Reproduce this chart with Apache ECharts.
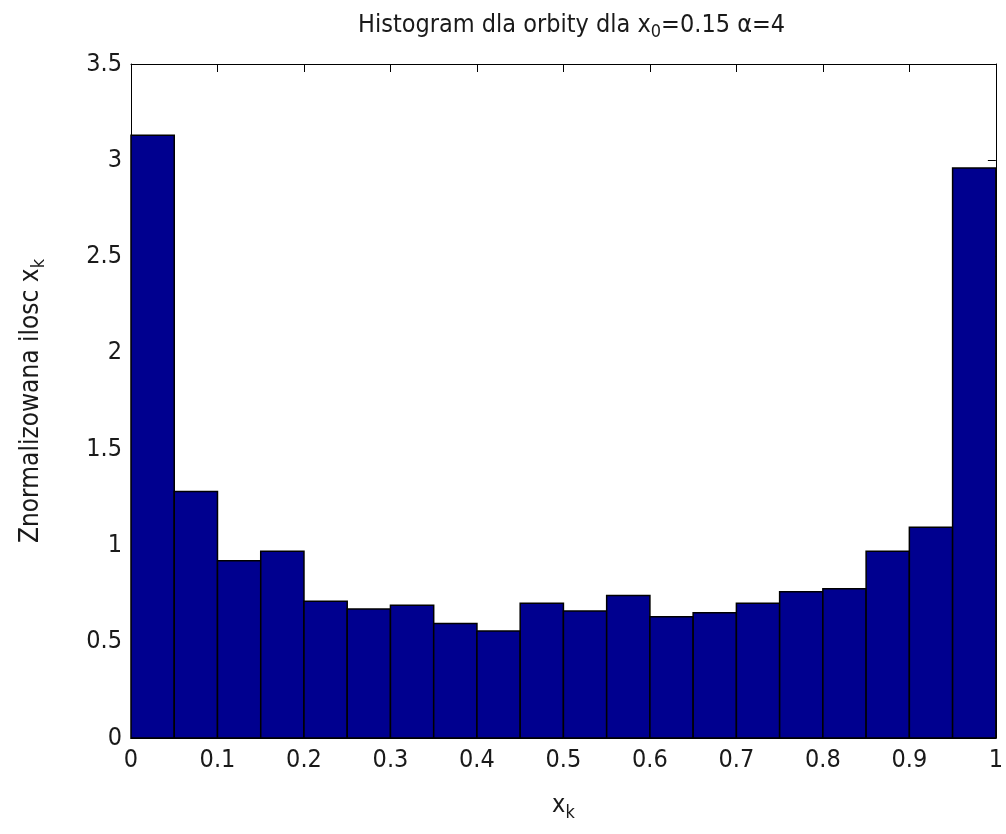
<!DOCTYPE html>
<html>
<head>
<meta charset="utf-8">
<script src="https://cdn.jsdelivr.net/npm/echarts@6/dist/echarts.min.js"></script>
<style>
  html, body { margin: 0; padding: 0; background: #fff; overflow: hidden; }
  #chart { width: 100vw; height: 100vh; }
</style>
</head>
<body>
<div id="chart"></div>
<script>
// Histogram bin edges (x_k) and normalized counts
const binEdges = [0, 0.05, 0.1, 0.15, 0.2, 0.25, 0.3, 0.35, 0.4, 0.45, 0.5,
                  0.55, 0.6, 0.65, 0.7, 0.75, 0.8, 0.85, 0.9, 0.95, 1];
const density = [3.13, 1.28, 0.92, 0.97, 0.71, 0.67, 0.69, 0.595, 0.555, 0.70,
                 0.66, 0.74, 0.63, 0.65, 0.70, 0.76, 0.775, 0.97, 1.095, 2.96];
const xTicks = [0, 0.1, 0.2, 0.3, 0.4, 0.5, 0.6, 0.7, 0.8, 0.9, 1];
const yTicks = [0, 0.5, 1, 1.5, 2, 2.5, 3, 3.5];
const titleText = 'Histogram dla orbity dla x{sub|0}=0.15 α=4';
const xName = 'x{sub|k}';
const yName = 'Znormalizowana ilosc x{sub|k}';

const FONT = '"Liberation Sans Narrow", "DejaVu Sans Condensed", "Liberation Sans", sans-serif';
const TXT = '#1a1a1a';

const bars = density.map((v, i) => [binEdges[i], binEdges[i + 1], v]);

const chart = echarts.init(document.getElementById('chart'), null, { renderer: 'canvas' });

const axisCommon = {
  type: 'value',
  axisLine: { show: true, onZero: false, lineStyle: { color: '#000', width: 1 } },
  axisTick: { show: true, inside: true, length: 8, lineStyle: { color: '#000', width: 1 } },
  splitLine: { show: false }
};

chart.setOption({
  backgroundColor: '#fff',
  animation: false,
  title: {
    text: titleText,
    left: 353,
    top: 4,
    textStyle: {
      fontFamily: FONT, fontSize: 25, fontWeight: 'normal', color: TXT,
      rich: { sub: { fontFamily: FONT, fontSize: 18, color: TXT, padding: [14, 0, 0, 0] } }
    }
  },
  grid: { left: 131, right: 4, top: 64, bottom: 96, containLabel: false },
  xAxis: [
    Object.assign({}, axisCommon, {
      position: 'bottom', min: 0, max: 1, interval: 0.1,
      axisLabel: {
        show: true, margin: 10, fontFamily: FONT, fontSize: 25, color: TXT,
        formatter: v => { const t = xTicks.find(x => Math.abs(x - v) < 1e-9); return t === undefined ? '' : String(t); }
      },
      name: xName, nameLocation: 'middle', nameGap: 50,
      nameTextStyle: {
        fontFamily: FONT, fontSize: 25, color: TXT,
        rich: { sub: { fontFamily: FONT, fontSize: 18, color: TXT, padding: [16, 0, 0, 0] } }
      }
    }),
    Object.assign({}, axisCommon, {
      position: 'top', min: 0, max: 1, interval: 0.1,
      axisLabel: { show: false }
    })
  ],
  yAxis: [
    Object.assign({}, axisCommon, {
      position: 'left', min: 0, max: 3.5, interval: 0.5,
      axisLabel: {
        show: true, margin: 9, fontFamily: FONT, fontSize: 25, color: TXT,
        formatter: v => { const t = yTicks.find(y => Math.abs(y - v) < 1e-9); return t === undefined ? '' : String(t); }
      },
      name: yName, nameLocation: 'middle', nameGap: 83,
      nameTextStyle: {
        fontFamily: FONT, fontSize: 26, color: TXT,
        rich: { sub: { fontFamily: FONT, fontSize: 18, color: TXT, padding: [16, 0, 0, 0] } }
      }
    }),
    Object.assign({}, axisCommon, {
      position: 'right', min: 0, max: 3.5, interval: 0.5,
      axisLabel: { show: false }
    })
  ],
  series: [{
    type: 'custom',
    xAxisIndex: 0,
    yAxisIndex: 0,
    data: bars,
    renderItem: function (params, api) {
      const p0 = api.coord([api.value(0), api.value(2)]);
      const p1 = api.coord([api.value(1), 0]);
      return {
        type: 'rect',
        shape: { x: p0[0], y: p0[1], width: p1[0] - p0[0], height: p1[1] - p0[1] },
        style: { fill: '#00008F', stroke: '#000', lineWidth: 1.5 }
      };
    },
    encode: { x: [0, 1], y: 2 }
  }]
});
</script>
</body>
</html>
